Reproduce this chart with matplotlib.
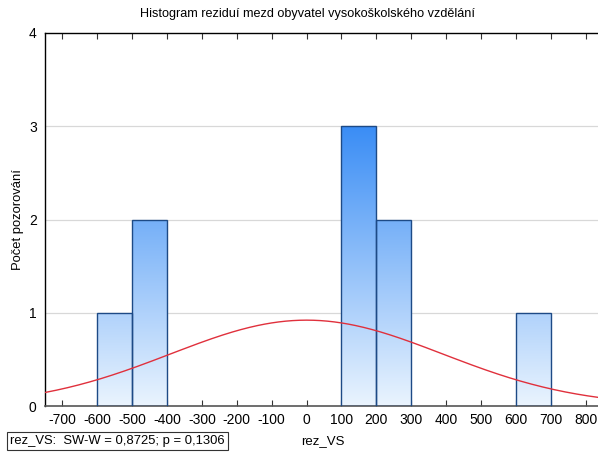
import numpy as np
import matplotlib
matplotlib.use("Agg")
import matplotlib.pyplot as plt
from matplotlib.colors import LinearSegmentedColormap
from matplotlib.patches import Rectangle

plt.rcParams['font.family'] = ['Liberation Sans', 'DejaVu Sans']

# Histogram data: bin edges (left, right) and counts
bin_left = [-600, -500, 100, 200, 600]
bin_width = 100
counts = [1, 2, 3, 2, 1]

# Fitted normal curve parameters
n_obs = 9
fit_mean = 0.0
fit_sd = 390.0

x_ticks = list(range(-700, 801, 100))
y_ticks = [0, 1, 2, 3, 4]

title = "Histogram reziduí mezd obyvatel vysokoškolského vzdělání"
x_label = "rez_VS"
y_label = "Počet pozorování"
test_text = "rez_VS:  SW-W = 0,8725; p = 0,1306"

fig = plt.figure(figsize=(5.98, 4.53), dpi=100)
ax = fig.add_axes([45 / 598, 47 / 453, (603 - 45) / 598, (406 - 33) / 453])
ax.set_xlim(-750, 850)
ax.set_ylim(0, 4)

# horizontal grid
for y in y_ticks[1:-1]:
    ax.axhline(y, color='#d8d8d8', lw=0.9, zorder=0)

# vertical blue gradient shared by all bars (depends on height)
cmap = LinearSegmentedColormap.from_list('bluegrad', ['#eaf4fe', '#3a8df5'])
grad = np.linspace(0, 1, 256).reshape(-1, 1)
top = max(counts)
for left, c in zip(bin_left, counts):
    rect = Rectangle((left, 0), bin_width, c, facecolor='none',
                     edgecolor='#1d4a86', lw=1.0, zorder=3)
    ax.add_patch(rect)
    im = ax.imshow(grad, cmap=cmap, origin='lower', aspect='auto',
                   extent=(-750, 850, 0, top), zorder=2, interpolation='bilinear')
    im.set_clip_path(rect)

# normal curve scaled to expected counts
xs = np.linspace(-750, 850, 400)
pdf = np.exp(-0.5 * ((xs - fit_mean) / fit_sd) ** 2) / (fit_sd * np.sqrt(2 * np.pi))
ax.plot(xs, n_obs * bin_width * pdf, color='#e0303c', lw=1.0, zorder=4)

ax.set_xlim(-750, 850)
ax.set_ylim(0, 4)
ax.set_xticks(x_ticks)
ax.set_xticklabels([str(t) for t in x_ticks], fontsize=10)
ax.set_yticks(y_ticks)
ax.set_yticklabels([str(t) for t in y_ticks], fontsize=10)
ax.tick_params(axis='x', direction='in', length=4, width=0.8, top=True,
               color='#333333', pad=5)
ax.tick_params(axis='y', length=0, pad=6)

for side in ['left', 'top']:
    ax.spines[side].set_color('black')
    ax.spines[side].set_linewidth(1.0)
ax.spines['bottom'].set_color('#555555')
ax.spines['bottom'].set_linewidth(1.2)
ax.spines['right'].set_visible(False)

ax.set_xlabel(x_label, fontsize=9.5, loc='center')
ax.xaxis.set_label_coords((323 - 45) / (603 - 45), -0.078)
ax.set_ylabel(y_label, fontsize=9.4)
ax.yaxis.set_label_coords(-0.037, 0.5)

fig.text(308 / 598, 1 - 14 / 453, title, ha='center', va='center', fontsize=9.1)
fig.text(10 / 598, 1 - 441 / 453, test_text, ha='left', va='center', fontsize=9.4,
         bbox=dict(boxstyle='square,pad=0.25', facecolor='white',
                   edgecolor='#333333', lw=0.8))

fig.savefig('out.png', dpi=100)
